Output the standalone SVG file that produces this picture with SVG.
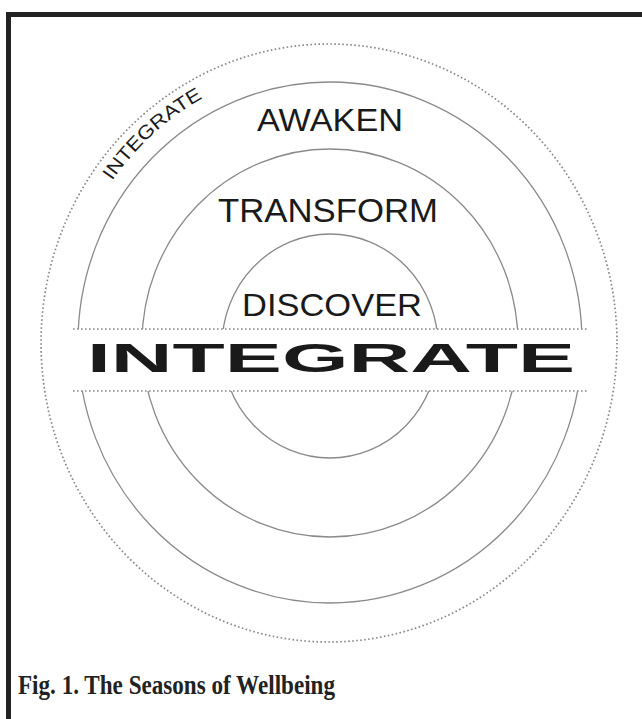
<svg xmlns="http://www.w3.org/2000/svg" width="642" height="719" viewBox="0 0 642 719">
<style>
.ring{fill:none;stroke:#8a8a8a;stroke-width:1.3}
.dot{fill:none;stroke:#888;stroke-width:1.7;stroke-dasharray:1.6 2.4}
.lbl{font-family:"Liberation Sans",Arial,sans-serif;fill:#1a1a1a}
</style>
<defs>
<path id="arc" d="M 62,343 A 268,278 0 0 1 598,343"/>
</defs>
<rect x="0" y="0" width="642" height="719" fill="#fff"/>
<rect id="frame" x="8.5" y="14.5" width="700" height="800" fill="none" stroke="#222" stroke-width="5"/>
<g id="rings">
<ellipse id="outer" class="dot" cx="329" cy="343" rx="288" ry="299"/>
<ellipse id="awaken-ring" class="ring" cx="330" cy="342.5" rx="252" ry="260.5"/>
<ellipse id="transform-ring" class="ring" cx="330" cy="343" rx="188" ry="194"/>
<ellipse id="discover-ring" class="ring" cx="330" cy="346" rx="108" ry="112"/>
</g>
<g id="band">
<rect x="73" y="329" width="514" height="62" fill="#fff"/>
<line class="dot" x1="73" y1="329" x2="587" y2="329"/>
<line class="dot" x1="73" y1="391" x2="587" y2="391"/>
<text class="lbl" x="87" y="372" font-size="40" font-weight="bold" textLength="488" lengthAdjust="spacingAndGlyphs" fill="#111">INTEGRATE</text>
</g>
<g id="labels">
<text class="lbl" x="257" y="131" font-size="31" textLength="146" lengthAdjust="spacingAndGlyphs">AWAKEN</text>
<text class="lbl" x="218" y="222" font-size="33" textLength="220" lengthAdjust="spacingAndGlyphs">TRANSFORM</text>
<text class="lbl" x="242" y="316" font-size="32" textLength="180" lengthAdjust="spacingAndGlyphs">DISCOVER</text>
<text class="lbl" font-size="19"><textPath href="#arc" startOffset="172" textLength="124" lengthAdjust="spacingAndGlyphs">INTEGRATE</textPath></text>
</g>
<text id="caption" x="18" y="694" font-family="'Liberation Serif','Times New Roman',serif" font-weight="bold" font-size="28" fill="#222" textLength="317" lengthAdjust="spacingAndGlyphs">Fig. 1. The Seasons of Wellbeing</text>
</svg>
